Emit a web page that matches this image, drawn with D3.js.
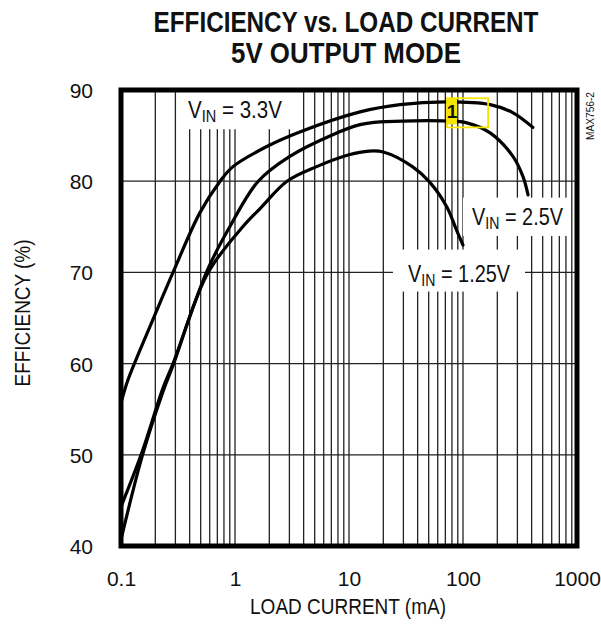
<!DOCTYPE html>
<html>
<head>
<meta charset="utf-8">
<script src="https://cdn.jsdelivr.net/npm/d3@7/dist/d3.min.js"></script>
<style>
  html, body { margin: 0; padding: 0; background: #fff; }
  svg { display: block; }
  text { font-family: "Liberation Sans Narrow", "Arial Narrow", "Liberation Sans", Arial, sans-serif; fill: #111; }
</style>
</head>
<body>
<svg id="chart" width="601" height="632"></svg>
<script>
(function () {
// ---------------- data ----------------
const titleLines = ["EFFICIENCY vs. LOAD CURRENT", "5V OUTPUT MODE"];
const xLabel = "LOAD CURRENT (mA)";
const yLabel = "EFFICIENCY (%)";
const xTickValues = [0.1, 1, 10, 100, 1000];
const xTickLabels = ["0.1", "1", "10", "100", "1000"];
const yTickValues = [40, 50, 60, 70, 80, 90];
const yGridValues = [50, 60, 70, 80];

const seriesNames = ["3.3V", "2.5V", "1.25V"];

const current33 = [0.1, 0.115, 0.147, 0.19, 0.286, 0.49, 0.74, 0.96, 1.9, 3.7, 12.5, 28, 72, 173, 275, 410];
const eff33     = [55.7, 58.2, 61.5, 64.8, 70.0, 76.5, 80.0, 81.6, 83.8, 85.4, 87.6, 88.4, 88.7, 88.4, 87.5, 85.9];

const current25 = [0.1, 0.153, 0.233, 0.286, 0.57, 0.9, 1.6, 3.0, 7.2, 12.5, 18.7, 72, 108, 173, 275, 336, 372];
const eff25     = [44.3, 50.3, 57.3, 60.0, 70.2, 75.0, 80.0, 82.7, 85.1, 86.2, 86.5, 86.6, 86.4, 85.3, 82.7, 80.5, 78.5];

const current125 = [0.1, 0.153, 0.233, 0.286, 0.57, 1.17, 1.66, 2.86, 5.2, 10, 15, 20, 36, 51, 72, 88, 100];
const eff125     = [40.7, 49.8, 56.9, 59.8, 69.8, 75.0, 77.0, 80.0, 81.6, 82.9, 83.3, 83.2, 81.6, 79.9, 77.2, 74.6, 73.0];

// label anchors in data coordinates (current, efficiency)
const labelAnchors = [
  { name: seriesNames[0], x: 0.387, y: 86.9, w: 94,  box: [0.316, 3.57, 90, 85.7] },
  { name: seriesNames[1], x: 120,   y: 75.2, w: 91,  box: [100, 834, 78.2, 74.0] },
  { name: seriesNames[2], x: 33,    y: 68.9, w: 102, box: [24.3, 350, 72.5, 67.9] }
];
const markerBox = { x0: 72.4, x1: 166, xFill: 88.5, y0: 89.1, y1: 85.9, label: "1" };
const sideNote = "MAX756-2";

// ---------------- layout ----------------
const svg = d3.select("#chart");
const pLeft = 121, pRight = 577, pTop = 90, pBottom = 546;

const x = d3.scaleLog().domain([0.1, 1000]).range([pLeft, pRight]);
const y = d3.scaleLinear().domain([40, 90]).range([pBottom, pTop]);

// helper: squeeze a text horizontally to a target width around its anchor
function squeeze(sel, cx, cy, targetW) {
  sel.each(function () {
    const w = this.getComputedTextLength();
    const s = Math.min(1, targetW / w);
    d3.select(this.parentNode).attr("transform", `translate(${cx},${cy}) scale(${s},1)`);
  });
}

// title
[[titleLines[0], 32, 385], [titleLines[1], 63, 230]].forEach(([t, by, w]) => {
  const g = svg.append("g");
  const tx = g.append("text").attr("x", 0).attr("y", 0).attr("text-anchor", "middle")
    .attr("font-size", 30).attr("font-weight", "bold").text(t);
  squeeze(tx, 346, by, w);
});

// grid
const minorX = [];
for (let d = -1; d < 3; d++) {
  for (let k = 1; k <= 9; k++) {
    const v = k * Math.pow(10, d);
    if (v > 0.1 && v < 1000) minorX.push(v);
  }
}
const grid = svg.append("g").attr("stroke", "#222").attr("stroke-width", 1.3);
grid.selectAll("line.v").data(minorX).join("line").attr("class", "v")
  .attr("x1", d => x(d)).attr("x2", d => x(d))
  .attr("y1", pTop).attr("y2", pBottom);
grid.selectAll("line.h").data(yGridValues).join("line").attr("class", "h")
  .attr("x1", pLeft).attr("x2", pRight)
  .attr("y1", d => y(d)).attr("y2", d => y(d));

// white boxes behind labels
svg.append("g").selectAll("rect").data(labelAnchors).join("rect")
  .attr("x", d => x(d.box[0])).attr("y", d => y(d.box[2]))
  .attr("width", d => x(d.box[1]) - x(d.box[0]))
  .attr("height", d => y(d.box[3]) - y(d.box[2]))
  .attr("fill", "#fff");

// curves
const seriesData = [
  current33.map((c, i) => [c, eff33[i]]),
  current25.map((c, i) => [c, eff25[i]]),
  current125.map((c, i) => [c, eff125[i]])
];
const line = d3.line().x(d => x(d[0])).y(d => y(d[1])).curve(d3.curveCatmullRom.alpha(0.5));
svg.append("g").selectAll("path").data(seriesData).join("path")
  .attr("d", line).attr("fill", "none").attr("stroke", "#000")
  .attr("stroke-width", 3.2).attr("stroke-linecap", "round");

// frame
svg.append("rect").attr("x", pLeft).attr("y", pTop)
  .attr("width", pRight - pLeft).attr("height", pBottom - pTop)
  .attr("fill", "none").attr("stroke", "#000").attr("stroke-width", 5);

// axes labels (ticks)
const xAxis = d3.axisBottom(x).tickValues(xTickValues)
  .tickFormat((d, i) => xTickLabels[i]).tickSize(0).tickPadding(0);
const gx = svg.append("g").attr("transform", `translate(0,${pBottom})`).call(xAxis);
gx.select(".domain").remove();
gx.selectAll("text").attr("font-size", 21).attr("fill", "#111")
  .attr("font-family", '"Liberation Sans Narrow", "Arial Narrow", "Liberation Sans", sans-serif')
  .attr("dy", null).attr("y", 40);

const yAxis = d3.axisLeft(y).tickValues(yTickValues).tickSize(0).tickPadding(0);
const gy = svg.append("g").attr("transform", `translate(93,0)`).call(yAxis);
gy.select(".domain").remove();
gy.selectAll("text").attr("font-size", 21).attr("fill", "#111")
  .attr("font-family", '"Liberation Sans Narrow", "Arial Narrow", "Liberation Sans", sans-serif')
  .attr("x", 0).attr("dy", "0.36em");

// axis titles
{
  const g = svg.append("g");
  const t = g.append("text").attr("text-anchor", "middle").attr("font-size", 22).text(xLabel);
  squeeze(t, 348, 614, 196);
}
{
  const g = svg.append("g").attr("transform", "translate(30,313) rotate(-90)");
  const g2 = g.append("g");
  const t = g2.append("text").attr("text-anchor", "middle").attr("font-size", 22).text(yLabel);
  squeeze(t, 0, 0, 147);
}

// series labels
labelAnchors.forEach(d => {
  const g = svg.append("g");
  const t = g.append("text").attr("x", 0).attr("y", 0).attr("font-size", 24);
  t.append("tspan").text("V");
  t.append("tspan").attr("font-size", 17).attr("dy", 4).text("IN");
  t.append("tspan").attr("dy", -4).text(" = " + d.name);
  squeeze(t, x(d.x), y(d.y), d.w);
});

// yellow marker
svg.append("rect").attr("x", x(markerBox.x0)).attr("y", y(markerBox.y0))
  .attr("width", x(markerBox.x1) - x(markerBox.x0)).attr("height", y(markerBox.y1) - y(markerBox.y0))
  .attr("fill", "none").attr("stroke", "#f5e600").attr("stroke-width", 1.8);
svg.append("rect").attr("x", x(markerBox.x0)).attr("y", y(markerBox.y0))
  .attr("width", x(markerBox.xFill) - x(markerBox.x0)).attr("height", y(markerBox.y1) - y(markerBox.y0) - 3)
  .attr("fill", "#f5e600");
svg.append("text").attr("x", (x(markerBox.x0) + x(markerBox.xFill)) / 2).attr("y", y(markerBox.y0) + 20)
  .attr("text-anchor", "middle").attr("font-size", 19).attr("font-weight", "bold")
  .attr("font-family", '"Liberation Sans", Arial, sans-serif').text(markerBox.label);

// side note
{
  const g = svg.append("g").attr("transform", "translate(594,116) rotate(-90)");
  const g2 = g.append("g");
  const t = g2.append("text").attr("text-anchor", "middle").attr("font-size", 11).text(sideNote);
  squeeze(t, 0, 0, 48);
}
})();
</script>
</body>
</html>
